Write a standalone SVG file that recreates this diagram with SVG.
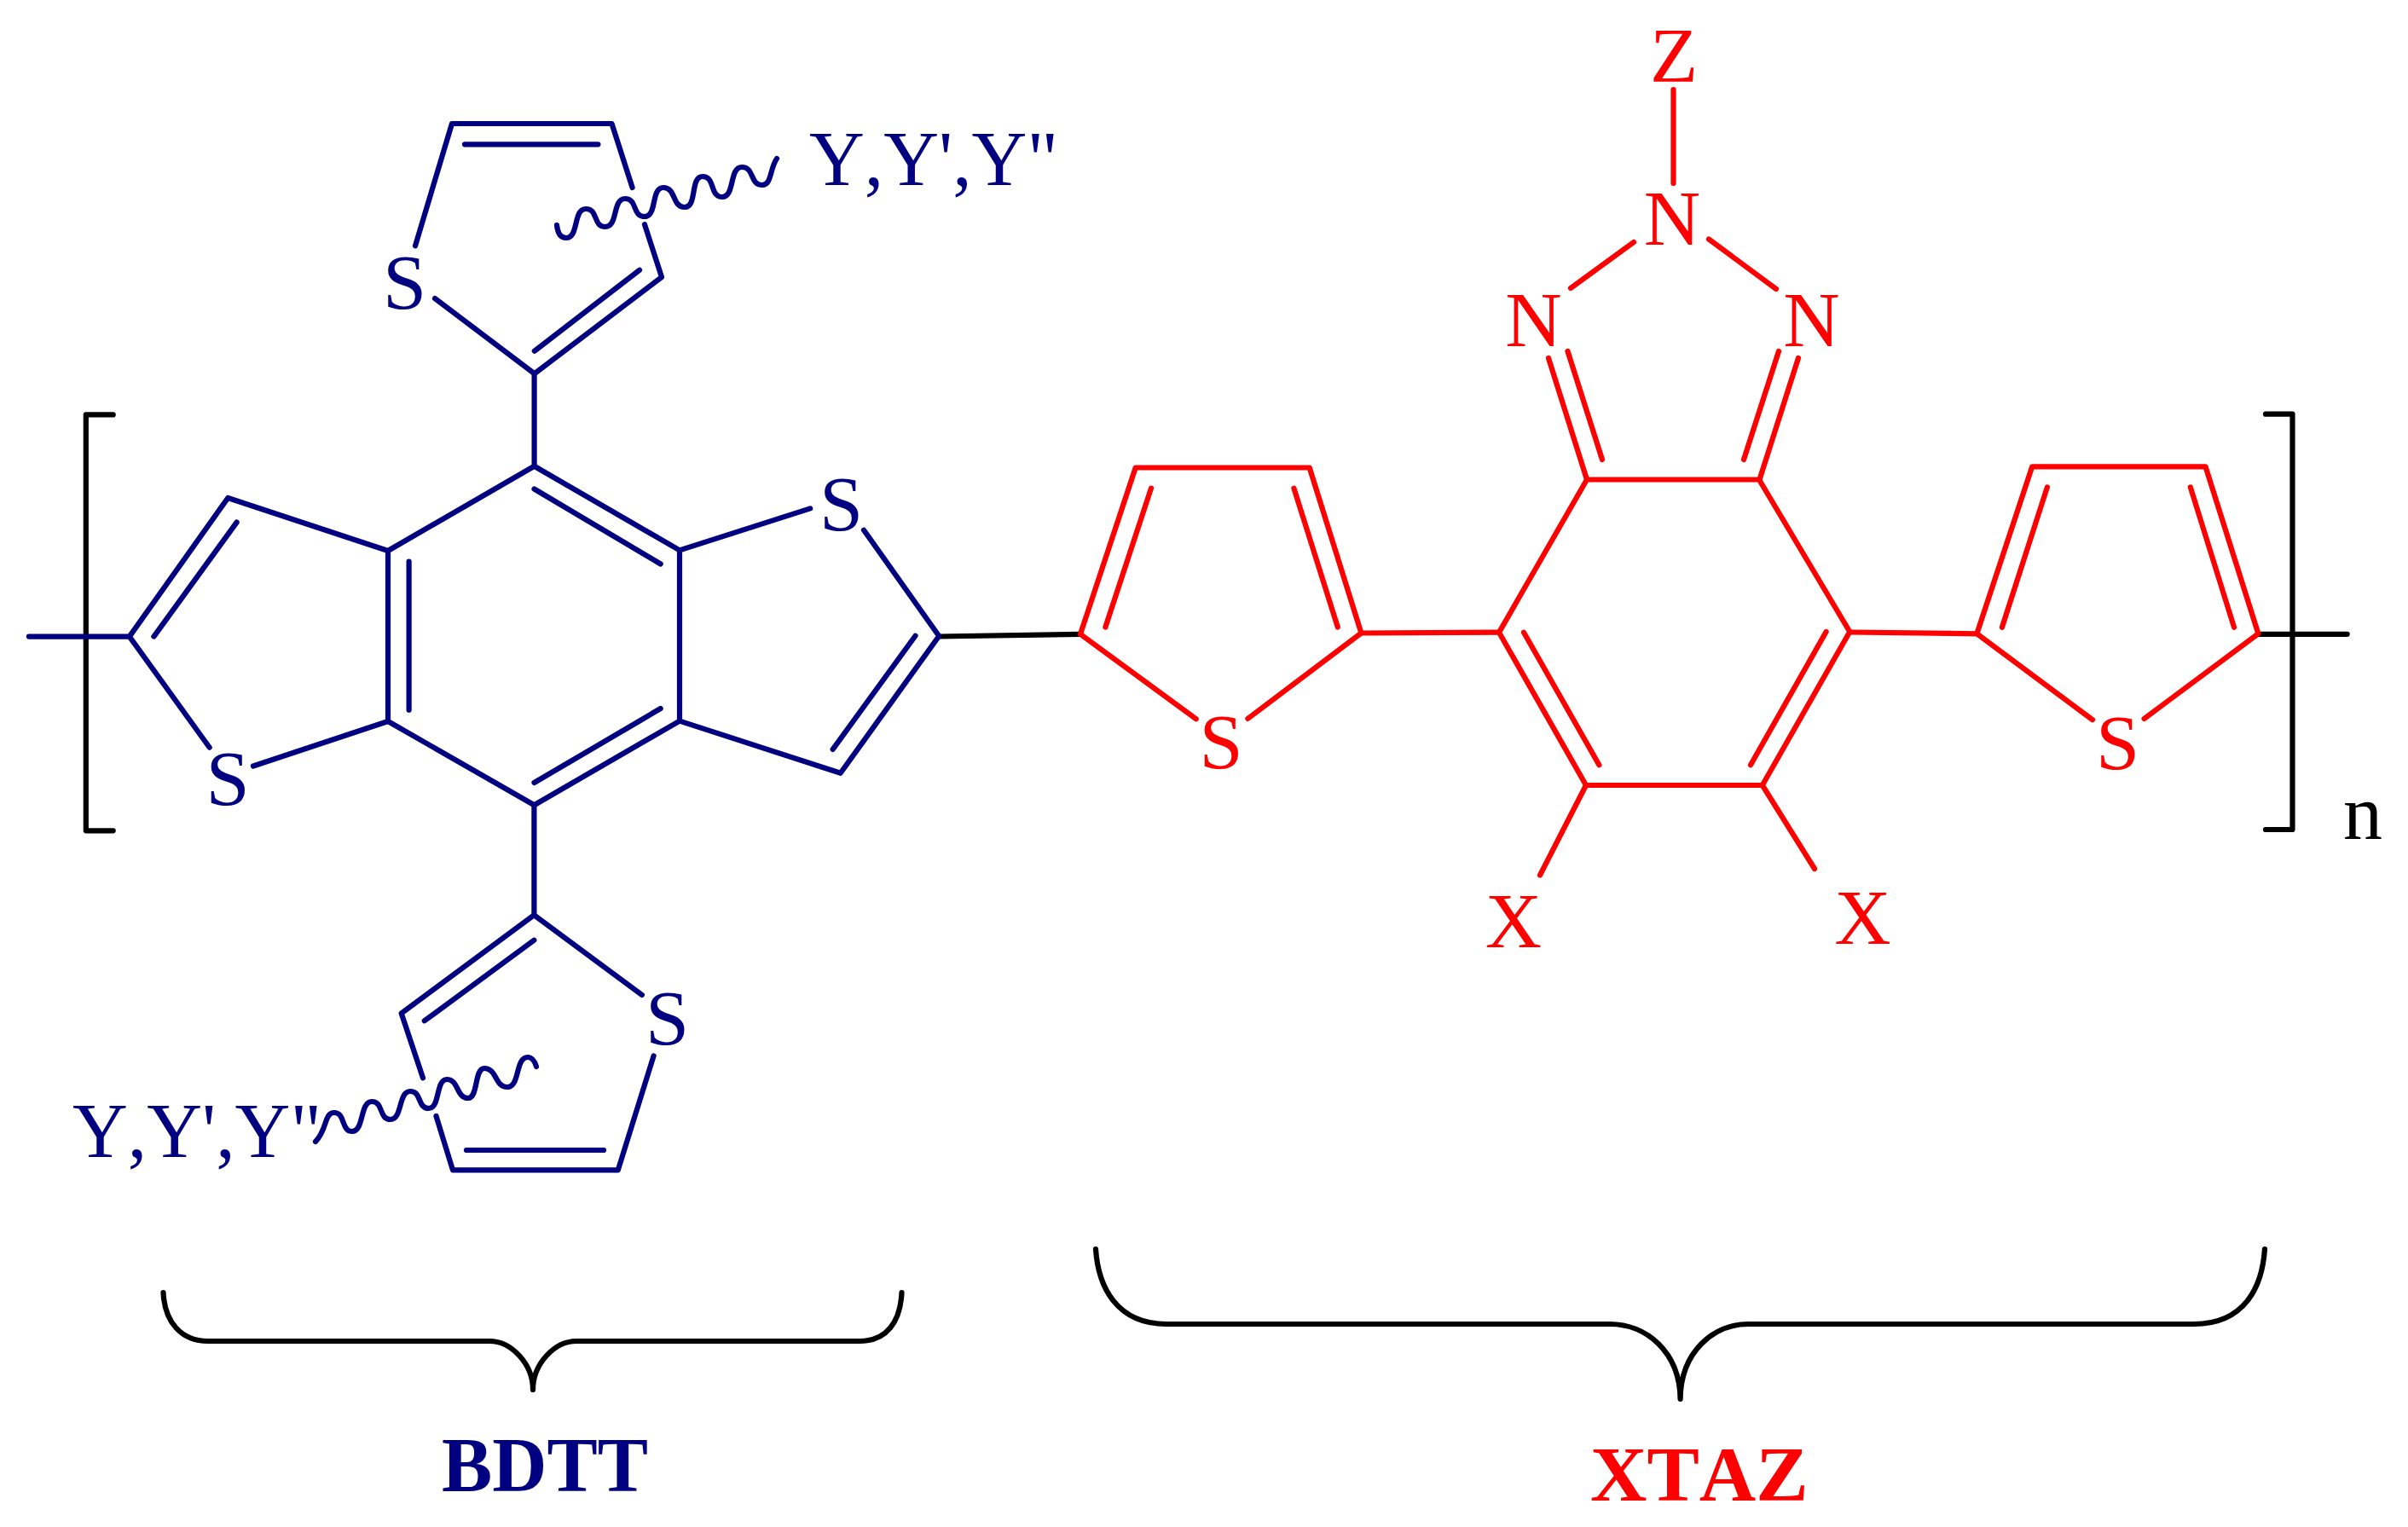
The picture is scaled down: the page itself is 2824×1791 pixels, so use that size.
<svg xmlns="http://www.w3.org/2000/svg" width="2824" height="1791" viewBox="0 0 2824 1791">
<style>
.b{fill:none;stroke-width:6.2;stroke-linecap:round;stroke-linejoin:round}
.navy{stroke:#000080}
.red{stroke:#ff0000}
.blk{stroke:#000000}
text{font-family:"Liberation Serif","Times New Roman",serif;font-size:92px;font-kerning:none}
.tn{fill:#000080}
.tr{fill:#ff0000}
.tk{fill:#000000}
.m{text-anchor:middle}
.h{font-weight:bold}
</style>
<rect width="2824" height="1791" fill="#ffffff"/>
<g id="connectors">
<path class="b blk" d="M1101,746.5 L1267,743.8"/>
<path class="b blk" d="M132.7,486.4 H100.8 V974.3 H132.7"/>
<path class="b blk" d="M2657,485.7 H2688.5 V973 H2657"/>
<path class="b navy" d="M33.9,746.6 H151.8"/>
<path class="b blk" d="M2648.4,743.8 H2752.7"/>
<path class="b red" d="M1596.4,742.5 L1758,741.7"/>
<path class="b red" d="M2169.3,741.5 L2318.4,743.3"/>
<path class="b navy" d="M626.6,438.3 V546.8"/>
<path class="b navy" d="M626.4,944.2 V1073.2"/>
</g>
<g id="bdt-core">
<path class="b navy" d="M245.7,876.7 L151.8,746.6 L267.3,584 L455,646 L626.6,546.8 L797,645.4 V845.6 L626.5,944.2 L455,846 V646"/>
<path class="b navy" d="M455,846 L297,898.5"/>
<path class="b navy" d="M180.4,746.6 L277.6,612.6"/>
<path class="b navy" d="M479.6,658.6 V832.7"/>
<path class="b navy" d="M626.5,573.5 L774.7,661.5"/>
<path class="b navy" d="M626.5,918 L774.7,831"/>
<path class="b navy" d="M797,645.4 L950.2,596.4"/>
<path class="b navy" d="M1013,621.7 L1101.2,746 L985.7,906.8 L797,845.6"/>
<path class="b navy" d="M1073.5,745.7 L976.7,878.9"/>
<text class="tn m" x="267" y="943.7">S</text>
<text class="tn m" x="986.5" y="621.7">S</text>
</g>
<g id="top-thiophene">
<path class="b navy" d="M487,288.3 L530,145 H717.5 L741.6,220"/>
<path class="b navy" d="M756,263.3 L776,325 L626.8,438.3 L510,350"/>
<path class="b navy" d="M545,169.3 H701.4"/>
<path class="b navy" d="M750,316.7 L626.8,411.7"/>
<path class="b navy" d="M653,264 C654,274 658,279 664,279 C679,279 672,245 687,245 C702,245 695,266 710,266 C725,266 718,233 733,233 C748,233 741,254 756,254 C771,254 763,220 778,220 C793,220 788,243 803,243 C818,243 809,207 824,207 C839,207 832,231 847,231 C862,231 855,196 870,196 C885,196 879,217 894,217 C905,217 903,197 911,186"/>
<text class="tn m" x="474.6" y="361.7">S</text>
<text class="tn" x="949" y="217.3" textLength="292" lengthAdjust="spacingAndGlyphs">Y,Y',Y"</text>
</g>
<g id="bottom-thiophene">
<path class="b navy" d="M752.9,1167 L626.3,1073.2 L470.7,1188.4 L496,1264.3"/>
<path class="b navy" d="M511.5,1309 L531,1372.3 H724.8 L766.6,1238.4"/>
<path class="b navy" d="M626.3,1102.7 L497.8,1197.3"/>
<path class="b navy" d="M547,1349 H708"/>
<path class="b navy" d="M629,1251 C627,1244 623,1240 619,1240 C604,1240 610,1275 595,1275 C580,1275 583,1253 568,1253 C556,1253 561,1288 549,1288 C535,1288 538,1266 524,1266 C511,1266 516,1300 503,1300 C489,1300 495,1280 481,1280 C467,1280 472,1313 458,1313 C444,1313 450,1292 436,1292 C422,1292 427,1327 413,1327 C400,1327 405,1305 392,1305 C380,1305 384,1325 370,1339"/>
<text class="tn m" x="782.5" y="1225">S</text>
<text class="tn" x="85" y="1357" textLength="292" lengthAdjust="spacingAndGlyphs">Y,Y',Y"</text>
</g>
<g id="thiophene-left">
<path class="b red" d="M1402.7,843.3 L1267,743.8 L1331.7,548.5 H1535.7 L1596.4,742.5 L1463.4,842.9"/>
<path class="b red" d="M1296.4,735.5 L1350,572.6"/>
<path class="b red" d="M1517.4,572.6 L1568.8,735.5"/>
<text class="tr m" x="1432" y="901.3">S</text>
</g>
<g id="thiophene-right">
<path class="b red" d="M2454,844.2 L2318.4,743.3 L2383.2,547.3 H2586.5 L2648.4,743.3 L2514.6,842.9"/>
<path class="b red" d="M2347.9,735.7 L2400.9,571.4"/>
<path class="b red" d="M2568.8,571.4 L2620,735.7"/>
<text class="tr m" x="2483.5" y="901.8">S</text>
</g>
<g id="benzotriazole">
<path class="b red" d="M1861,562.5 H2063 L2169.3,741 L2066.8,921 H1860 L1758,741.7 L1861,562.5"/>
<path class="b red" d="M1787,741.7 L1875.4,897.2"/>
<path class="b red" d="M2141.6,741 L2053,897.3"/>
<path class="b red" d="M1816,420 L1861,562.5"/>
<path class="b red" d="M1838.5,412 L1879,539"/>
<path class="b red" d="M2109,420 L2063.5,562.5"/>
<path class="b red" d="M2086,412 L2045,539"/>
<path class="b red" d="M1842,338 L1916,284"/>
<path class="b red" d="M2004,280.5 L2083,339"/>
<path class="b red" d="M1962.5,105 V215"/>
<path class="b red" d="M1860,921 L1806,1026.5"/>
<path class="b red" d="M2066.8,921 L2128,1019"/>
<text class="tr m" x="1963" y="96">Z</text>
<text class="tr m" x="1961" y="287">N</text>
<text class="tr m" x="1798.5" y="406">N</text>
<text class="tr m" x="2124.5" y="406">N</text>
<text class="tr m" x="1775" y="1111">X</text>
<text class="tr m" x="2184.5" y="1107">X</text>
</g>
<g id="repeat-label">
<text class="tk m" x="2771" y="984.4">n</text>
</g>
<g id="brace-bdtt">
<path class="b blk" d="M191.5,1516 C193,1550 212,1573 244,1573 L574,1573 C600,1573 625,1600 625,1630 C625,1600 650,1573 676,1573 L1008,1573 C1040,1573 1056,1550 1057.5,1516"/>
<text class="tn h" x="518" y="1749" textLength="242" lengthAdjust="spacingAndGlyphs">BDTT</text>
</g>
<g id="brace-xtaz">
<path class="b blk" d="M1285,1465 C1288,1510 1310,1553 1368,1553 L1888,1553 C1930,1553 1970,1585 1970.6,1641 C1971,1585 2010,1553 2050,1553 L2573,1553 C2632,1553 2653,1510 2656,1465"/>
<text class="tr h" x="1865" y="1760">XTAZ</text>
</g>
</svg>
